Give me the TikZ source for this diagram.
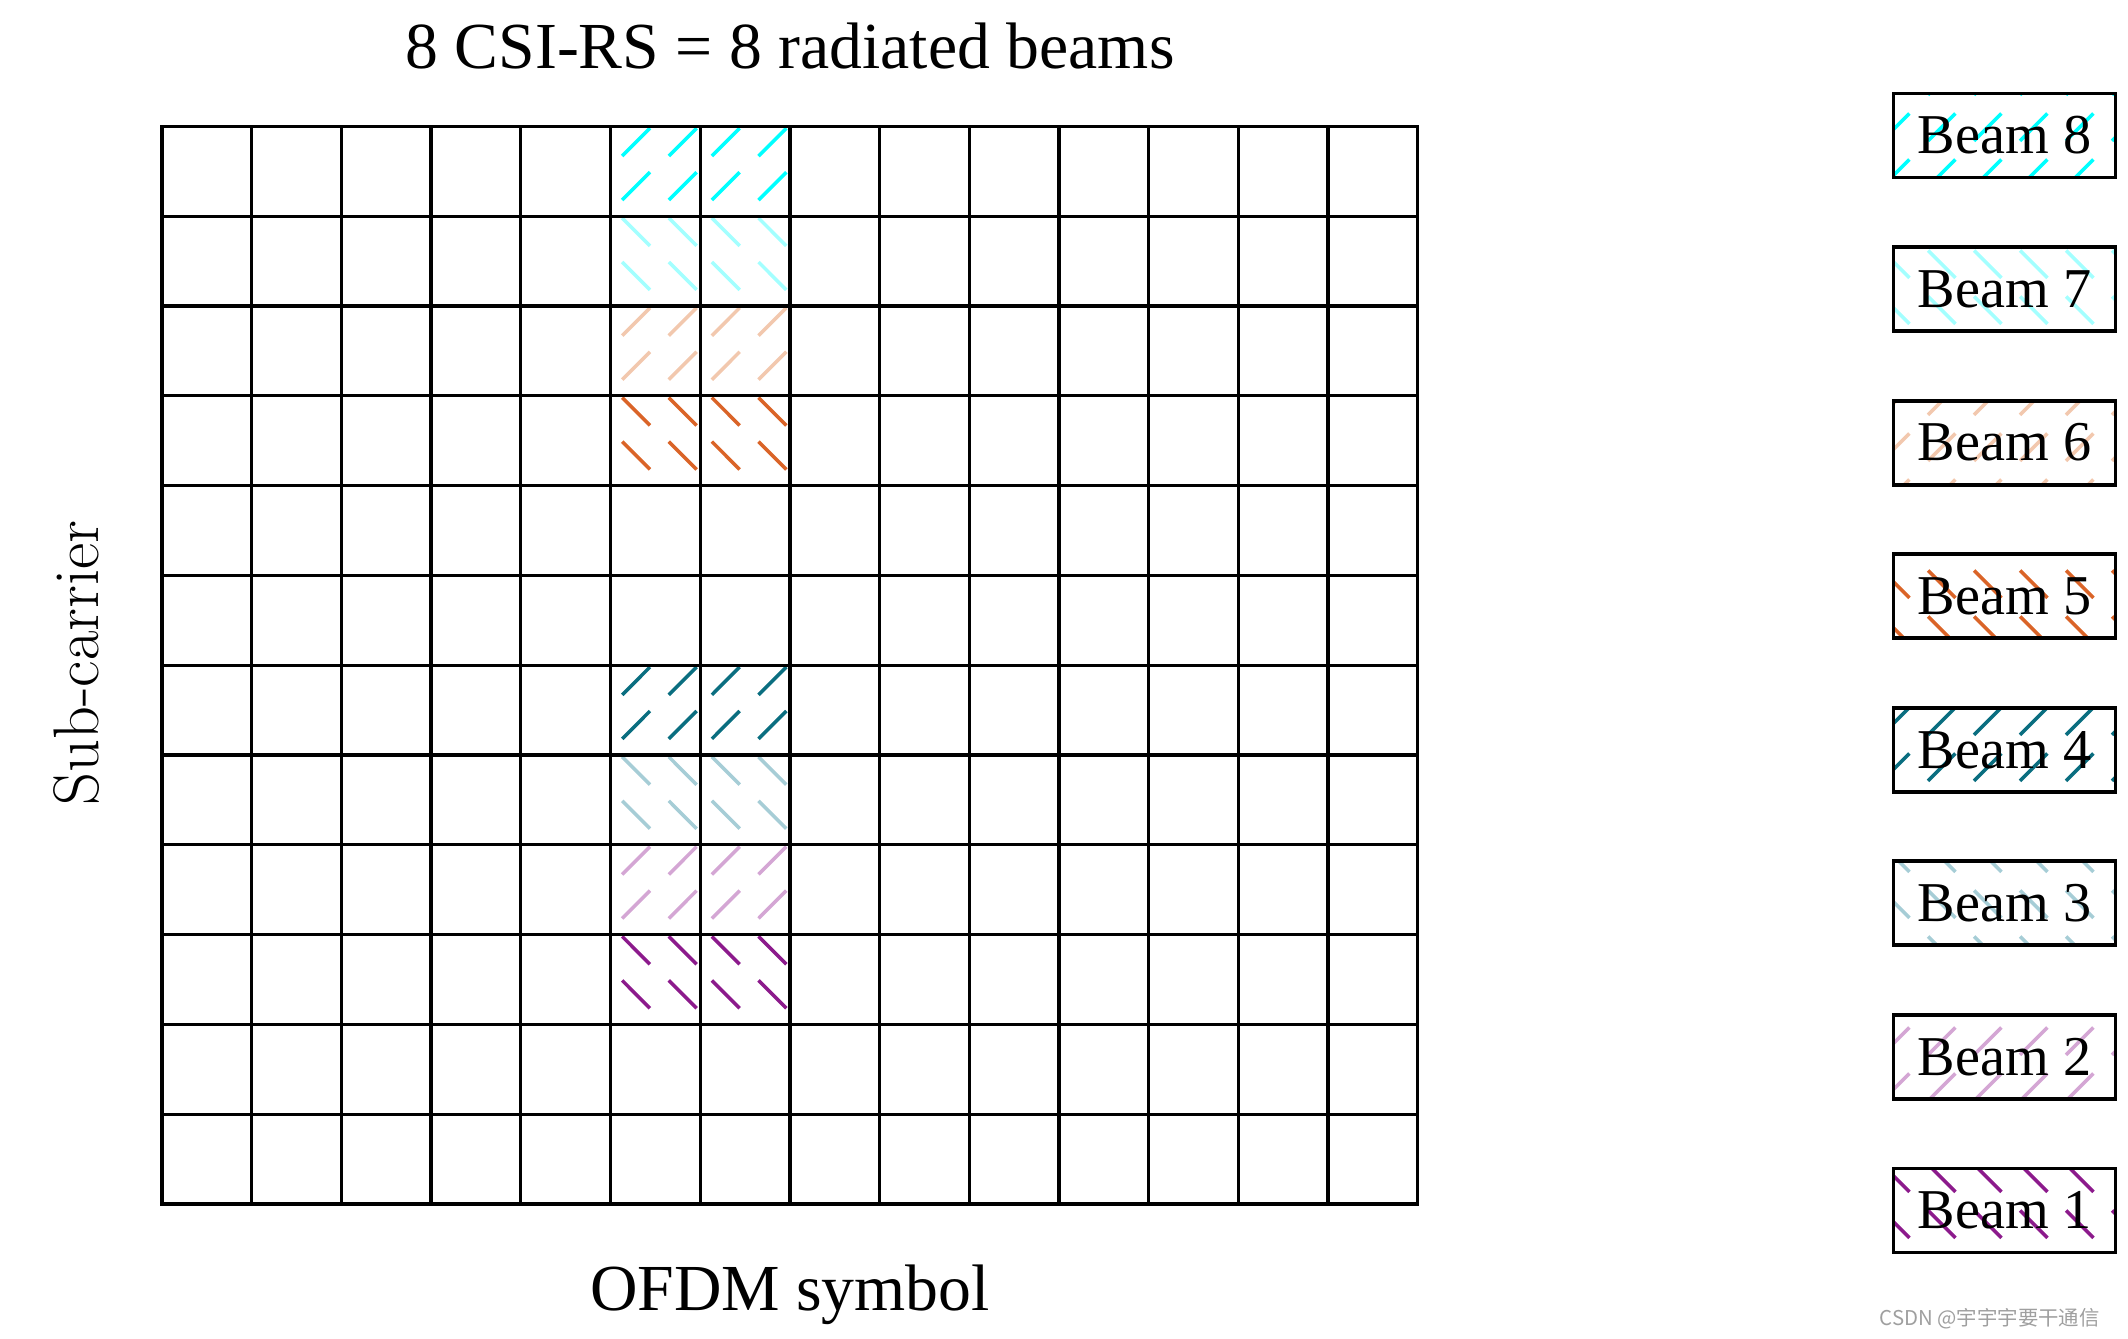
\documentclass[tikz,border=0pt]{standalone}
\usepackage{fontspec}
\usepackage{tikz}
\usetikzlibrary{positioning, patterns}
\newfontfamily\timesfont{Liberation Serif}
\newfontfamily\cjkfont{Noto Sans CJK SC}
\definecolor{bmcyan}{HTML}{00FFFF}
\definecolor{bmcyanlt}{HTML}{A3FFFF}
\definecolor{bmorange}{HTML}{DA6428}
\definecolor{bmorangelt}{HTML}{F2C8AE}
\definecolor{bmteal}{HTML}{0A6E80}
\definecolor{bmteallt}{HTML}{A6CDD6}
\definecolor{bmpurple}{HTML}{8C1A8C}
\definecolor{bmpurplelt}{HTML}{D4A6D4}
% dashed hatching for the legend boxes, one dash per tile
\pgfdeclarepatternformonly{beam ne}{\pgfpointorigin}{\pgfqpoint{13pt}{13pt}}{\pgfqpoint{13pt}{13pt}}{
  \pgfsetlinewidth{1pt}
  \pgfpathmoveto{\pgfqpoint{2.6pt}{2.6pt}}
  \pgfpathlineto{\pgfqpoint{10.4pt}{10.4pt}}
  \pgfusepath{stroke}
}
\pgfdeclarepatternformonly{beam nw}{\pgfpointorigin}{\pgfqpoint{13pt}{13pt}}{\pgfqpoint{13pt}{13pt}}{
  \pgfsetlinewidth{1pt}
  \pgfpathmoveto{\pgfqpoint{2.6pt}{10.4pt}}
  \pgfpathlineto{\pgfqpoint{10.4pt}{2.6pt}}
  \pgfusepath{stroke}
}

\begin{document}
\begin{tikzpicture}[node distance=0.657cm]
  \tikzset{
    beambox/.style 2 args={rectangle, draw, line width=1.1pt, pattern=beam #1,
      pattern color=#2, minimum width=2.22cm, minimum height=0.84cm, inner sep=0pt,
      font=\timesfont\fontsize{16}{19}\selectfont},
    hatchdash/.style={line width=1pt, draw=#1},
    gridline/.style={line width=0.95pt, line cap=rect},
    biglabel/.style={font=\timesfont\fontsize{18.7}{22}\selectfont, anchor=base},
  }
  \useasboundingbox (0,0) rectangle (21.28,-13.38);

  % resource grid, 14 symbols x 12 sub-carriers
  \begin{scope}[shift={(1.62cm,-12.04cm)}, x=0.897cm, y=0.898cm]
    % CSI-RS in symbols 6 and 7; \s = +1 for /, -1 for \
    \foreach \r/\s/\c in {11/1/bmcyan, 10/-1/bmcyanlt, 9/1/bmorangelt, 8/-1/bmorange,
                          5/1/bmteal, 4/-1/bmteallt, 3/1/bmpurplelt, 2/-1/bmpurple}
      \foreach \cx in {5.13,5.65,6.13,6.65}
        \foreach \cy in {0.18,0.67}
          \draw[hatchdash=\c] (\cx,{\r+\cy+0.155-0.155*\s}) -- ++(0.31,{0.31*\s});
    \foreach \i in {0,...,14}
      \draw[gridline] (\i,0) -- (\i,12);
    \foreach \j in {0,...,12}
      \draw[gridline] (0,\j) -- (14,\j);
  \end{scope}

  \node[biglabel] (title) at (7.9,-0.68) {8 CSI-RS = 8 radiated beams};
  \node[biglabel] (xlab) at (7.9,-13.10) {OFDM symbol};
  \node[font=\fontsize{18.3}{22}\selectfont, anchor=base, rotate=90] (ylab) at (0.98,-6.63) {Sub-carrier};

  % legend
  \node[beambox={ne}{bmcyan}] (b8) at (20.045,-1.355) {Beam 8};
  \node[beambox={nw}{bmcyanlt}, below=of b8] (b7) {Beam 7};
  \node[beambox={ne}{bmorangelt}, below=of b7] (b6) {Beam 6};
  \node[beambox={nw}{bmorange}, below=of b6] (b5) {Beam 5};
  \node[beambox={ne}{bmteal}, below=of b5] (b4) {Beam 4};
  \node[beambox={nw}{bmteallt}, below=of b4] (b3) {Beam 3};
  \node[beambox={ne}{bmpurplelt}, below=of b3] (b2) {Beam 2};
  \node[beambox={nw}{bmpurple}, below=of b2] (b1) {Beam 1};

  \node[font=\cjkfont\fontsize{5.8}{7}\selectfont, text=gray!75, anchor=base east]
    (mark) at (21.12,-13.25) {CSDN @宇宇宇要干通信};
\end{tikzpicture}
\end{document}
